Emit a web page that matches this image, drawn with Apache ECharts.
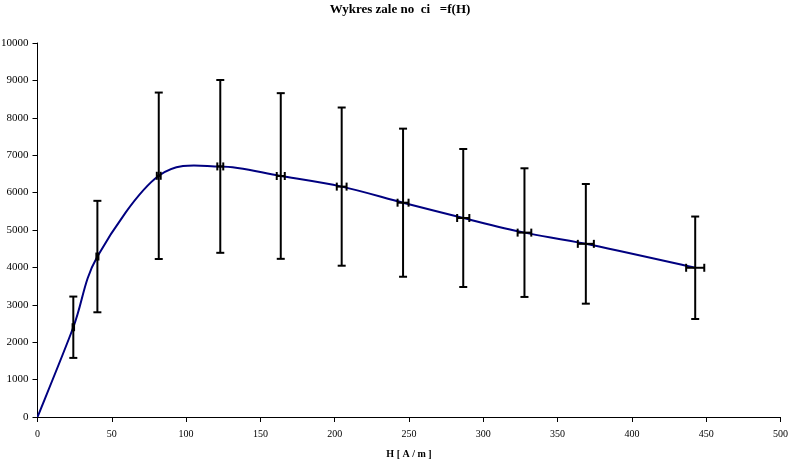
<!DOCTYPE html>
<html>
<head>
<meta charset="utf-8">
<script src="https://cdn.jsdelivr.net/npm/echarts@6/dist/echarts.min.js"></script>
<style>html,body{margin:0;padding:0;background:#fff}#c{width:790px;height:460px}</style>
</head>
<body>
<div id="c"></div>
<script>
// Data
var titleText = 'Wykres zale no  ci   =f(H)';
var xName = 'H [ A / m ]';
var H     = [24.1, 40.3, 81.6, 123, 163.7, 204.7, 246, 286.5, 327.7, 369, 442.6];
var mu    = [2400, 4290, 6450, 6700, 6444, 6160, 5730, 5321, 4930, 4630, 3990];
var muErr = [820, 1490, 2225, 2310, 2215, 2115, 1980, 1845, 1720, 1600, 1370];
var hErr  = [0.5, 0.7, 1.3, 2.0, 2.7, 3.3, 3.7, 4.1, 4.6, 5.4, 6.1];
var origin = [0, 0];

var curve = [origin].concat(H.map(function (h, i) { return [h, mu[i]]; }));
var errData = H.map(function (h, i) { return [h, mu[i], muErr[i], hErr[i]]; });

var chart = echarts.init(document.getElementById('c'));
var font = 'Liberation Serif';

// Smoothed curve (Catmull-Rom style Bezier segments between the data points, in pixel space)
function renderCurve(params, api) {
  var i = params.dataIndex;
  var n = curve.length;
  if (i >= n - 1) return null;
  var p0 = api.coord(curve[Math.max(i - 1, 0)]);
  var p1 = api.coord(curve[i]);
  var p2 = api.coord(curve[i + 1]);
  var p3 = api.coord(curve[Math.min(i + 2, n - 1)]);
  var k = 1 / 6;
  return {
    type: 'bezierCurve',
    shape: {
      x1: p1[0], y1: p1[1], x2: p2[0], y2: p2[1],
      cpx1: p1[0] + (p2[0] - p0[0]) * k, cpy1: p1[1] + (p2[1] - p0[1]) * k,
      cpx2: p2[0] - (p3[0] - p1[0]) * k, cpy2: p2[1] - (p3[1] - p1[1]) * k
    },
    style: { stroke: '#000080', lineWidth: 2, fill: null, lineCap: 'round' }
  };
}

chart.setOption({
  animation: false,
  backgroundColor: '#fff',
  title: {
    text: titleText, left: 395, top: -2, textAlign: 'center',
    textStyle: { fontFamily: font, fontSize: 13, fontWeight: 'bold', color: '#000' }
  },
  grid: { left: 37.5, right: 9.5, top: 43, bottom: 43, containLabel: false, outerBoundsMode: 'none' },
  xAxis: {
    type: 'value', min: 0, max: 500, interval: 50,
    name: xName, nameLocation: 'middle', nameGap: 32,
    nameTextStyle: { fontFamily: font, fontSize: 10, fontWeight: 'bold', color: '#000' },
    axisLine: { lineStyle: { color: '#000', width: 1 } },
    axisTick: { show: true, inside: false, length: 5, lineStyle: { color: '#000' } },
    axisLabel: { fontFamily: font, fontSize: 10, color: '#000', margin: 12 },
    splitLine: { show: false }
  },
  yAxis: {
    type: 'value', min: 0, max: 10000, interval: 1000,
    axisLine: { show: true, lineStyle: { color: '#000', width: 1 } },
    axisTick: { show: true, inside: false, length: 5, lineStyle: { color: '#000' } },
    axisLabel: { fontFamily: font, fontSize: 11, color: '#000', margin: 9,
      formatter: function (v) { return String(v); } },
    splitLine: { show: false }
  },
  series: [
    {
      type: 'custom', data: curve, z: 2, renderItem: renderCurve, clip: true
    },
    {
      type: 'custom', data: errData, z: 3,
      renderItem: function (params, api) {
        var x = api.value(0), y = api.value(1), ey = api.value(2), ex = api.value(3);
        var top = api.coord([x, y + ey]);
        var bot = api.coord([x, y - ey]);
        var left = api.coord([x - ex, y]);
        var right = api.coord([x + ex, y]);
        var c = 4;
        var st = { stroke: '#000', lineWidth: 2 };
        return {
          type: 'group',
          children: [
            { type: 'line', shape: { x1: top[0], y1: top[1], x2: bot[0], y2: bot[1] }, style: st },
            { type: 'line', shape: { x1: top[0] - c, y1: top[1], x2: top[0] + c, y2: top[1] }, style: st },
            { type: 'line', shape: { x1: bot[0] - c, y1: bot[1], x2: bot[0] + c, y2: bot[1] }, style: st },
            { type: 'line', shape: { x1: left[0], y1: left[1], x2: right[0], y2: right[1] }, style: st },
            { type: 'line', shape: { x1: left[0], y1: left[1] - c, x2: left[0], y2: left[1] + c }, style: st },
            { type: 'line', shape: { x1: right[0], y1: right[1] - c, x2: right[0], y2: right[1] + c }, style: st }
          ]
        };
      }
    }
  ]
});
</script>
</body>
</html>
